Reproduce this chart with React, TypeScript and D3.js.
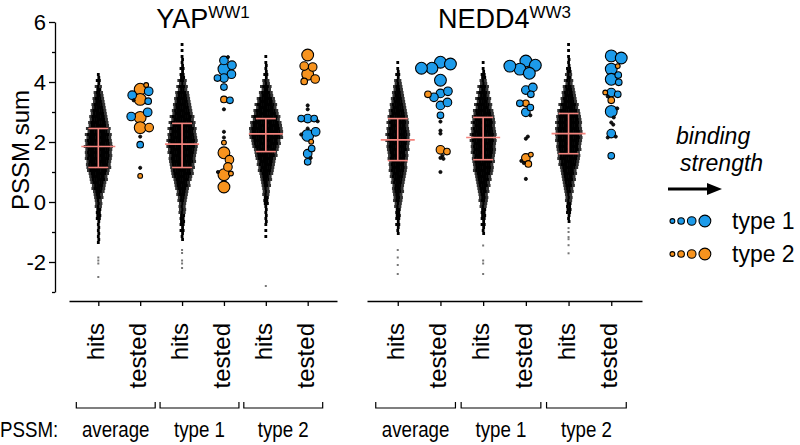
import React, { useEffect, useRef } from 'react';
import * as d3 from 'd3';

const W = 800;
const H = 445;
const FONT = 'Arial, "Liberation Sans", Helvetica, sans-serif';

const panelNames = ['YAP', 'NEDD4'];
const panelSups = ['WW1', 'WW3'];
const groupLabels = ['average', 'type 1', 'type 2'];
const kindLabels = ['hits', 'tested'];
const yTicks = [-2, 0, 2, 4, 6];
const yMinorTicks = [-3, -1, 1, 3, 5];

// hits columns: YAP avg, YAP t1, YAP t2, NEDD4 avg, NEDD4 t1, NEDD4 t2
// dot counts per 0.2 bin, starting at hitsTop and going down
const hitsTop = [4.2, 5.2, 4.8, 4.6, 4.6, 5.2];
const hitsCounts = [
  [2, 3, 5, 8, 10, 12, 14, 16, 18, 21, 23, 24, 25, 24, 23, 22, 19, 16, 13, 11, 8, 6, 5, 4, 3, 2, 2, 2, 1],
  [1, 1, 2, 2, 3, 4, 7, 9, 12, 14, 16, 18, 21, 23, 25, 26, 27, 27, 25, 24, 22, 20, 17, 14, 11, 9, 7, 6, 5, 4, 3, 3, 2],
  [1, 2, 2, 3, 6, 9, 12, 16, 19, 22, 25, 28, 30, 30, 26, 23, 20, 17, 15, 13, 10, 8, 6, 5, 4, 2, 2, 2, 1, 1, 1],
  [1, 2, 3, 6, 8, 10, 12, 14, 16, 18, 19, 20, 21, 21, 20, 18, 17, 16, 15, 13, 11, 10, 8, 7, 5, 4, 3, 3, 2],
  [1, 2, 4, 6, 9, 11, 13, 15, 18, 20, 21, 22, 23, 23, 22, 21, 20, 18, 17, 14, 12, 10, 8, 7, 5, 4, 3, 3, 2],
  [1, 1, 2, 2, 4, 5, 7, 10, 12, 14, 17, 20, 22, 23, 24, 24, 23, 22, 20, 19, 17, 14, 12, 10, 8, 6, 5, 4, 3, 2],
];
const hitsOutliers = [
  [-1.85, -1.95, -2.05, -2.5],
  [-1.6, -1.7, -1.95, -2.05, -2.2],
  [-2.8],
  [-1.6, -1.85, -2.1, -2.4],
  [-1.45, -1.95, -2.05, -2.4],
  [-0.87, -1.0, -1.17, -1.24, -1.44, -1.71],
];
const hitsMean = [1.85, 1.93, 2.27, 2.07, 2.15, 2.28];
const hitsSdLow = [1.15, 1.15, 1.68, 1.38, 1.41, 1.61];
const hitsSdHigh = [2.45, 2.62, 2.78, 2.78, 2.82, 2.95];

// tested peptides: [PSSM sum, type (0 = unclassified), binding strength 0..4]
const testedPoints: number[][][] = [
  [[3.76, 2, 4], [3.9, 2, 1], [3.69, 1, 3], [3.42, 2, 4], [3.56, 1, 3], [3.36, 1, 2], [3.39, 0, 0], [2.82, 2, 4],
   [2.99, 1, 3], [2.85, 1, 3], [2.48, 2, 3], [2.48, 2, 4], [2.18, 0, 0], [1.91, 1, 2], [1.14, 0, 0], [0.87, 2, 1]],
  [[4.83, 0, 0], [4.56, 1, 3], [4.26, 1, 3], [4.72, 1, 3], [4.43, 1, 4], [4.13, 1, 2], [4.13, 1, 3], [3.83, 1, 2],
   [3.42, 2, 2], [3.39, 1, 2], [3.09, 0, 0], [2.34, 0, 0], [2.15, 0, 0], [1.98, 2, 1], [1.64, 2, 4], [1.41, 2, 3],
   [1.17, 2, 3], [0.91, 2, 4], [1.0, 0, 0], [0.95, 2, 1], [0.5, 2, 4]],
  [[4.9, 2, 4], [4.5, 2, 3], [4.53, 2, 3], [4.26, 2, 4], [4.1, 2, 3], [4.02, 2, 2], [3.22, 0, 0], [3.09, 0, 0],
   [2.78, 1, 3], [2.69, 0, 0], [2.78, 1, 2], [2.78, 1, 2], [2.45, 0, 0], [2.34, 1, 3], [2.25, 0, 0], [2.22, 1, 4],
   [2.01, 2, 1], [1.78, 1, 2], [1.61, 1, 3], [1.47, 0, 0], [1.34, 1, 2]],
  [[4.66, 1, 4], [4.6, 1, 4], [4.46, 1, 4], [4.46, 1, 4], [4.06, 1, 4], [3.62, 1, 3], [3.69, 1, 3], [3.49, 1, 3],
   [3.59, 2, 2], [3.22, 1, 3], [3.32, 1, 3], [2.89, 1, 2], [2.38, 0, 0], [2.28, 0, 0], [2.68, 0, 0], [1.74, 2, 3],
   [1.68, 2, 2], [1.47, 0, 0], [1.44, 0, 0], [1.54, 0, 0], [1.0, 0, 0]],
  [[4.7, 1, 4], [4.56, 1, 4], [4.43, 1, 4], [4.53, 1, 4], [4.29, 1, 4], [3.59, 1, 2], [3.73, 1, 3], [3.82, 1, 3],
   [3.29, 2, 2], [3.15, 1, 2], [3.29, 1, 2], [2.99, 1, 3], [2.89, 0, 0], [2.11, 0, 0], [2.18, 0, 0], [1.47, 2, 3],
   [1.58, 2, 1], [1.3, 0, 0], [1.37, 0, 0], [1.27, 2, 2], [0.77, 0, 0]],
  [[4.87, 1, 4], [4.8, 1, 4], [4.53, 2, 1], [4.43, 1, 4], [4.23, 1, 2], [4.09, 1, 4], [3.99, 1, 2], [3.65, 1, 3],
   [3.65, 2, 1], [3.59, 1, 2], [3.52, 0, 0], [3.39, 2, 2], [3.12, 0, 0], [3.02, 1, 4], [2.82, 0, 0], [2.65, 0, 0],
   [2.58, 0, 0], [2.18, 0, 0], [2.15, 0, 0], [2.28, 1, 3], [1.54, 1, 2]],
];

const legendSizes = [1, 2, 3, 4];
const legendTypes = [1, 2];

const typeColor = ['#111111', '#1D9BEA', '#F7931E'];
const radii = [1.6, 2.4, 3.3, 4.3, 5.9];
const barColor = '#F4837D';

const cols = groupLabels.flatMap((g) => kindLabels.map((k) => `${g}|${k}`));

const y = d3.scaleLinear().domain([-3, 6]).range([292, 22]);
const xPanels = [
  d3.scalePoint<string>().domain(cols).range([69, 337]).padding(0.7),
  d3.scalePoint<string>().domain(cols).range([367, 642]).padding(0.72),
];
const xAxisY = 301;
const bottomY = 437;

function hitsDots(ci: number, cx: number) {
  const dots: { x: number; y: number; o: boolean; edge: boolean }[] = [];
  hitsCounts[ci].forEach((c, bi) => {
    const v = hitsTop[ci] - bi * 0.2;
    [Math.ceil(c / 2), Math.floor(c / 2)].forEach((n, ri) => {
      const vv = v + (ri === 0 ? 0.05 : -0.05);
      for (let i = 0; i < n; i++) {
        dots.push({
          x: cx + (i - (n - 1) / 2) * 2.2 + (ri ? 0.5 : 0),
          y: y(vv),
          o: false,
          edge: n > 2 && (i === 0 || i === n - 1),
        });
      }
    });
  });
  hitsOutliers[ci].forEach((v) => dots.push({ x: cx, y: y(v), o: true, edge: false }));
  return dots;
}

function swarm(points: number[][], cx: number) {
  const order = points.map((_, i) => i).sort((a, b) => points[b][2] - points[a][2]);
  const placed: { x: number; y: number; r: number; t: number; s: number }[] = [];
  order.forEach((i) => {
    const [v, t, s] = points[i];
    const r = radii[s];
    const py = y(v);
    let best = 0;
    for (let k = 0; k < 300; k++) {
      const off = (k % 2 ? 1 : -1) * Math.ceil(k / 2) * 0.5;
      const px = cx + off;
      if (placed.every((q) => Math.hypot(q.x - px, q.y - py) >= (q.r + r) * 0.85)) {
        best = off;
        break;
      }
    }
    placed.push({ x: cx + best, y: py, r, t, s });
  });
  return placed;
}

export default function App() {
  const yAxisRef = useRef<SVGGElement>(null);
  const xAxisRef0 = useRef<SVGGElement>(null);
  const xAxisRef1 = useRef<SVGGElement>(null);

  useEffect(() => {
    const g = d3.select(yAxisRef.current);
    g.selectAll('*').remove();
    g.append('g').call(
      d3.axisLeft(y).tickValues(yTicks).tickSize(6).tickSizeOuter(0).tickPadding(3).tickFormat((d) => String(d))
    );
    g.append('g')
      .call(d3.axisLeft(y).tickValues(yMinorTicks).tickSize(3).tickSizeOuter(0).tickFormat(() => ''))
      .select('.domain')
      .remove();
    g.selectAll('text').attr('font-size', 22).attr('font-family', FONT).attr('fill', '#000');
    g.selectAll('line, path').attr('stroke', '#000').attr('stroke-width', 1.3);

    [xAxisRef0, xAxisRef1].forEach((ref, pi) => {
      const a = d3.select(ref.current);
      a.selectAll('*').remove();
      a.call(d3.axisBottom(xPanels[pi]).tickSize(5).tickSizeOuter(0).tickFormat(() => ''));
      a.selectAll('line, path').attr('stroke', '#000').attr('stroke-width', 1.3);
    });
  }, []);

  return (
    <svg width={W} height={H} style={{ position: 'absolute', left: 0, top: 0, background: '#fff' }} fontFamily={FONT}>
      {/* y axis */}
      <g ref={yAxisRef} transform="translate(55,0)" />
      <text transform="translate(29,150) rotate(-90)" textAnchor="middle" fontSize={24}>
        PSSM sum
      </text>

      {panelNames.map((name, pi) => {
        const xs = xPanels[pi];
        const [r0, r1] = xs.range();
        return (
          <g key={name}>
            <text x={(r0 + r1) / 2} y={28} textAnchor="middle" fontSize={27}>
              {name}
              <tspan fontSize={17} dy={-10}>
                {panelSups[pi]}
              </tspan>
            </text>
            <g ref={pi === 0 ? xAxisRef0 : xAxisRef1} transform={`translate(0,${xAxisY})`} />
            {cols.map((c) => {
              const cx = xs(c) as number;
              const [, kind] = c.split('|');
              return (
                <text
                  key={c}
                  transform={`translate(${cx + 6},323) rotate(-90)`}
                  textAnchor="end"
                  fontSize={24}
                >
                  {kind}
                </text>
              );
            })}
            {groupLabels.map((gl) => {
              const xa = (xs(`${gl}|hits`) as number) - 22;
              const xb = (xs(`${gl}|tested`) as number) + 15;
              return (
                <g key={gl}>
                  <path d={`M${xa},402V408H${xb}V402`} fill="none" stroke="#000" strokeWidth={1.2} />
                  <text
                    transform={`translate(${(xa + xb) / 2},${bottomY}) scale(0.85,1)`}
                    textAnchor="middle"
                    fontSize={22}
                  >
                    {gl}
                  </text>
                </g>
              );
            })}
            {groupLabels.map((gl, gi) => {
              const ci = pi * 3 + gi;
              const cx = xs(`${gl}|hits`) as number;
              const dots = hitsDots(ci, cx);
              return (
                <g key={`h${gl}`}>
                  {dots.map((d, i) => (
                    <rect
                      key={i}
                      x={d.x - (d.o ? 1 : 1.4)}
                      y={d.y - (d.o ? 1 : 1.5)}
                      width={d.o ? 2 : 2.8}
                      height={d.o ? 2 : 3}
                      fill={d.o ? '#777' : d.edge ? '#333' : '#000'}
                    />
                  ))}
                  <g stroke={barColor} strokeWidth={1.6}>
                    <line x1={cx - 17} x2={cx + 17} y1={y(hitsMean[ci])} y2={y(hitsMean[ci])} />
                    <line x1={cx} x2={cx} y1={y(hitsSdLow[ci])} y2={y(hitsSdHigh[ci])} />
                    <line x1={cx - 10} x2={cx + 10} y1={y(hitsSdLow[ci])} y2={y(hitsSdLow[ci])} />
                    <line x1={cx - 10} x2={cx + 10} y1={y(hitsSdHigh[ci])} y2={y(hitsSdHigh[ci])} />
                  </g>
                </g>
              );
            })}
            {groupLabels.map((gl, gi) => {
              const ci = pi * 3 + gi;
              const cx = xs(`${gl}|tested`) as number;
              const pts = swarm(testedPoints[ci], cx);
              return (
                <g key={`t${gl}`}>
                  {pts.map((p, i) => (
                    <circle
                      key={i}
                      cx={p.x}
                      cy={p.y}
                      r={p.r}
                      fill={typeColor[p.t]}
                      stroke="#000"
                      strokeWidth={p.s === 0 ? 0.8 : 1.1}
                    />
                  ))}
                </g>
              );
            })}
          </g>
        );
      })}

      <text transform={`translate(0,${bottomY}) scale(0.85,1)`} fontSize={22}>
        PSSM:
      </text>

      {/* legend */}
      <text x={676} y={144} fontSize={23} fontStyle="italic">
        binding
      </text>
      <text x={680} y={171} fontSize={23} fontStyle="italic">
        strength
      </text>
      <line x1={668} x2={710} y1={189} y2={189} stroke="#000" strokeWidth={3} />
      <path d="M707,183L722,189L707,195Z" fill="#000" />
      {legendTypes.map((t, ti) => {
        const ly = 221 + ti * 33;
        let lx = 670;
        return (
          <g key={t}>
            {legendSizes.map((s, si) => {
              const r = radii[s];
              const cx = lx + r;
              lx = cx + r + 3;
              return <circle key={si} cx={cx} cy={ly} r={r} fill={typeColor[t]} stroke="#000" strokeWidth={1.1} />;
            })}
            <text x={732} y={ly + 8} fontSize={23}>
              {`type ${t}`}
            </text>
          </g>
        );
      })}
    </svg>
  );
}
